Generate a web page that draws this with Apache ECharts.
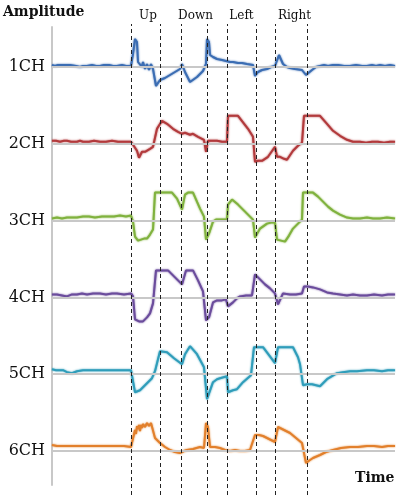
<!DOCTYPE html>
<html>
<head>
<meta charset="utf-8">
<script src="https://cdn.jsdelivr.net/npm/echarts@6/dist/echarts.min.js"></script>
<style>
  html, body { margin: 0; padding: 0; background: #fff; }
  #chartContainer { width: 399px; height: 495px; }
</style>
</head>
<body>
<div id="chartContainer"></div>
<script>
// channel names, top to bottom
const channels = ['1CH', '2CH', '3CH', '4CH', '5CH', '6CH'];
const channelColors = ['#3b6db3', '#b23a3c', '#80b23e', '#6b4c9c', '#2f9dba', '#e2802c'];

// gesture boundaries (time) and gesture labels
const eventTimes = [79, 108, 129, 155, 175, 204, 223, 255];
const gestureNames = ['Up', 'Down', 'Left', 'Right'];
const gestureLabelTimes = [96, 143.5, 189.5, 242.5];

// amplitude traces, [time, amplitude]
const ch1 = [[0,2],[3,1],[6,2],[8,1],[11,2],[14,2],[16,3],[18,2],[20,1],[24,1],[28,0],[31,1],[35,1],[40,2],[44,1],[48,1],[52,2],[57,2],[61,1],[65,1],[70,2],[74,1],[79,1],[81,13],[83,28],[85,25],[86,5],[88,7],[90,0],[91,5],[93,-2],[95,3],[97,-3],[99,3],[101,-2],[104,-19],[108,-13],[113,-11],[118,-8],[123,-5],[128,-2],[130,3],[133,-5],[138,-15],[145,-10],[151,-4],[154,3],[155,28],[157,25],[158,12],[161,10],[165,8],[170,7],[174,6],[175,7],[178,5],[181,5],[186,4],[190,4],[195,3],[201,2],[203,-9],[206,-5],[210,-3],[215,-2],[219,0],[223,1],[227,12],[231,3],[235,0],[238,-1],[243,-2],[250,-3],[254,-8],[260,-3],[264,0],[268,1],[272,2],[276,1],[281,2],[286,2],[292,1],[298,1],[304,2],[310,1],[315,1],[320,2],[324,1],[328,2],[333,1],[338,2],[343,1]];
const ch2 = [[0,3],[4,3],[8,2],[12,3],[15,3],[19,2],[25,2],[28,3],[31,2],[37,2],[42,3],[48,2],[54,2],[60,3],[66,2],[72,2],[79,2],[81,1],[85,-7],[87,-14],[90,-8],[93,-8],[95,-7],[98,-5],[101,-3],[105,15],[110,23],[115,20],[121,15],[126,12],[130,10],[133,11],[135,11],[138,9],[141,10],[146,7],[152,4],[154,-8],[156,3],[160,3],[165,3],[170,2],[175,2],[176,28],[186,28],[196,15],[201,7],[203,-18],[206,-17],[210,-17],[213,-15],[216,-13],[223,-3],[225,-13],[228,-13],[232,-15],[235,-16],[241,-7],[246,-2],[250,1],[252,28],[268,28],[275,20],[281,13],[288,8],[295,4],[301,2],[308,2],[314,1],[320,2],[326,2],[332,1],[338,2],[343,2]];
const ch3 = [[0,2],[5,3],[10,2],[15,3],[20,3],[25,3],[31,4],[37,4],[43,3],[50,4],[56,4],[62,4],[68,5],[74,4],[79,5],[81,-1],[83,-16],[86,-20],[88,-20],[92,-18],[95,-18],[98,-14],[101,-9],[103,28],[120,28],[125,22],[130,11],[133,26],[136,28],[141,28],[148,12],[152,4],[154,-19],[157,-13],[161,-1],[164,1],[168,1],[172,1],[175,1],[176,16],[180,21],[186,16],[190,12],[195,7],[201,1],[203,-17],[208,-8],[215,-3],[219,-2],[223,-2],[225,-19],[229,-20],[233,-21],[237,-15],[241,-8],[246,-3],[250,1],[251,28],[261,28],[266,24],[271,19],[276,14],[281,10],[288,6],[295,3],[301,2],[308,2],[315,3],[321,2],[328,2],[335,3],[343,2]];
const ch4 = [[0,3],[5,3],[10,2],[15,1],[20,3],[25,3],[30,4],[35,3],[41,4],[48,4],[54,3],[60,4],[65,4],[72,3],[79,4],[81,1],[83,-22],[87,-24],[91,-24],[95,-20],[98,-16],[101,-6],[104,27],[116,27],[123,20],[130,13],[134,27],[141,27],[146,17],[151,6],[154,-23],[157,-20],[161,-5],[165,-3],[170,-3],[174,-2],[176,-9],[181,-5],[185,-1],[188,1],[194,2],[200,2],[203,23],[208,18],[213,13],[218,9],[223,4],[226,-7],[231,4],[238,3],[244,3],[250,4],[252,11],[256,11],[261,10],[268,8],[275,5],[281,4],[288,3],[295,2],[301,3],[308,2],[315,2],[322,3],[330,2],[336,3],[343,3]];
const ch5 = [[0,5],[4,4],[8,4],[11,4],[15,2],[20,1],[25,3],[31,4],[37,4],[42,4],[48,4],[55,4],[60,4],[65,4],[72,4],[79,4],[81,2],[83,-18],[85,-17],[88,-16],[94,-10],[100,-4],[103,3],[108,23],[115,22],[122,16],[130,10],[133,20],[138,28],[145,20],[152,7],[155,-25],[157,-23],[161,-8],[165,-5],[168,-4],[175,-2],[176,-18],[181,-16],[185,-15],[191,-8],[199,-1],[202,27],[211,27],[217,19],[223,11],[226,27],[241,27],[246,17],[248,10],[251,-11],[255,-10],[260,-10],[264,-11],[268,-12],[275,-5],[280,-2],[285,1],[291,2],[298,3],[305,3],[315,4],[322,4],[330,3],[336,4],[343,4]];
const ch6 = [[0,6],[5,5],[10,5],[15,5],[22,5],[30,5],[38,5],[48,5],[56,5],[65,5],[72,5],[79,4],[81,3],[83,21],[84,17],[85,25],[86,22],[87,26],[88,20],[89,26],[90,23],[91,27],[93,24],[95,28],[97,25],[99,28],[101,27],[103,13],[108,8],[113,4],[118,1],[123,-1],[128,-2],[132,0],[135,1],[141,2],[148,4],[152,3],[154,28],[156,24],[158,4],[163,4],[168,3],[173,1],[178,0],[183,1],[188,0],[193,0],[198,1],[203,16],[207,16],[211,15],[217,12],[223,9],[226,24],[232,21],[238,18],[244,13],[250,8],[254,-12],[258,-9],[261,-7],[268,-4],[274,-1],[281,1],[289,3],[298,4],[306,4],[315,5],[322,5],[330,4],[336,5],[343,5]];

const traces = [ch1, ch2, ch3, ch4, ch5, ch6];
const channelGap = 76.8;   // vertical spacing between channel baselines

const myChart = echarts.init(document.getElementById('chartContainer'));

const serifFont = 'DejaVu Serif';
const baselineValues = channels.map((c, i) => (channels.length - 1 - i) * channelGap);

const series = traces.map((trace, i) => ({
    type: 'line',
    name: channels[i],
    xAxisIndex: 0,
    yAxisIndex: 0,
    showSymbol: false,
    animation: false,
    data: trace.map(p => [p[0], p[1] + baselineValues[i]]),
    lineStyle: { color: channelColors[i], width: 2, shadowColor: channelColors[i], shadowBlur: 2 },
    itemStyle: { color: channelColors[i] },
    z: 3,
    markLine: {
        silent: true,
        symbol: 'none',
        animation: false,
        label: { show: false },
        lineStyle: { color: '#c8c8c8', type: 'solid', width: 2 },
        data: [{ yAxis: baselineValues[i] }]
    }
}));

// dashed gesture boundaries
series.push({
    type: 'line',
    xAxisIndex: 0,
    yAxisIndex: 0,
    data: [],
    z: 4,
    markLine: {
        silent: true,
        symbol: 'none',
        animation: false,
        label: { show: false },
        lineStyle: { color: '#222', type: [4, 3], width: 1 },
        data: eventTimes.map(t => ({ xAxis: t }))
    }
});

const option = {
    animation: false,
    grid: [
        { left: 52, right: 4, top: 24, bottom: 0 },
        { left: 52, right: 4, top: 27, bottom: 10 }
    ],
    xAxis: [
        {
            gridIndex: 0, type: 'value', min: 0, max: 343, position: 'top',
            axisLine: { show: false }, axisTick: { show: false }, splitLine: { show: false },
            axisLabel: {
                show: true, margin: 2,
                customValues: gestureLabelTimes,
                formatter: v => gestureNames[gestureLabelTimes.indexOf(v)] || '',
                fontFamily: serifFont, fontSize: 12, color: '#111'
            }
        },
        {
            gridIndex: 1, type: 'value', min: 0, max: 343,
            axisLine: { show: false }, axisTick: { show: false }, splitLine: { show: false },
            axisLabel: { show: false },
            name: 'Time', nameLocation: 'end', nameGap: -40,
            nameTextStyle: { fontFamily: serifFont, fontWeight: 'bold', fontSize: 14, color: '#111', verticalAlign: 'bottom' }
        }
    ],
    yAxis: [
        {
            gridIndex: 0, type: 'value', min: -44, max: 427,
            axisLine: { show: false }, axisTick: { show: false }, splitLine: { show: false },
            axisLabel: {
                show: true, margin: 7,
                customValues: baselineValues,
                formatter: v => channels[baselineValues.indexOf(v)] || '',
                fontFamily: serifFont, fontSize: 16, color: '#111'
            }
        },
        {
            gridIndex: 1, type: 'value', min: 0, max: 1,
            axisLine: { show: true, lineStyle: { color: '#c8c8c8', width: 2 } },
            axisTick: { show: false }, splitLine: { show: false }, axisLabel: { show: false },
            name: 'Amplitude', nameLocation: 'end', nameGap: 8,
            nameTextStyle: { fontFamily: serifFont, fontWeight: 'bold', fontSize: 14, color: '#111', align: 'left', padding: [0, 0, 0, -49] }
        }
    ],
    series: series
};

myChart.setOption(option);
</script>
</body>
</html>
